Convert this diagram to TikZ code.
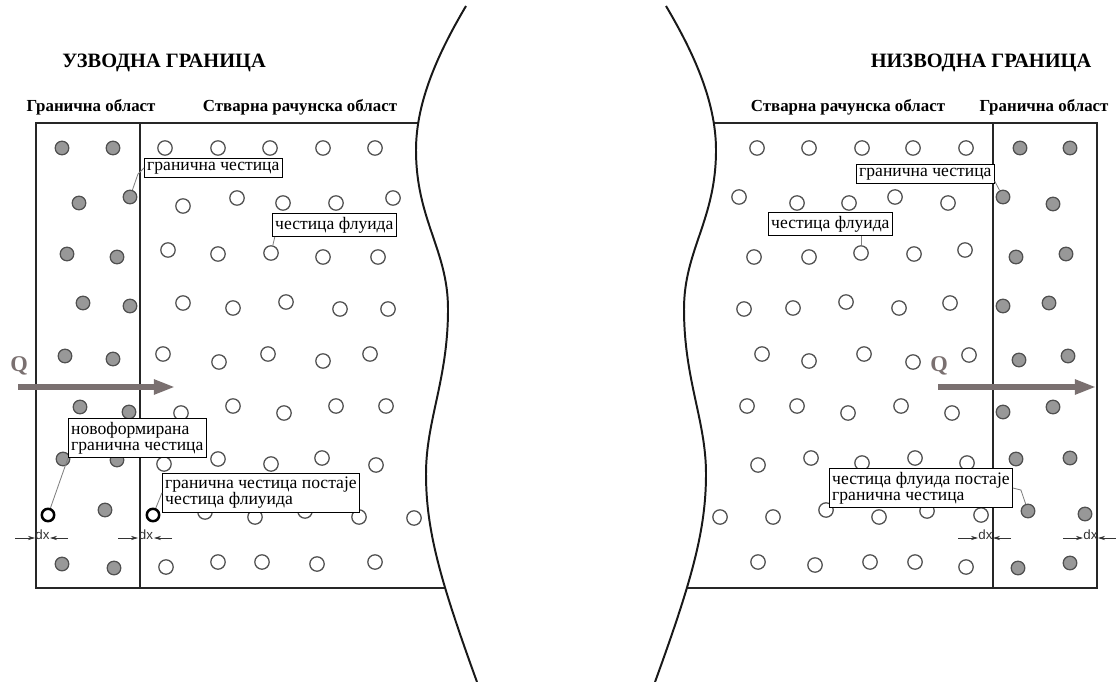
\documentclass[tikz,border=0pt]{standalone}
\usepackage{fontspec}
\setmainfont{Liberation Serif}
\setsansfont{Liberation Sans}
\usetikzlibrary{arrows.meta}

\definecolor{qgrey}{RGB}{122,112,112}
\definecolor{pgrey}{RGB}{152,152,152}
\definecolor{rimgrey}{RGB}{80,80,80}

\begin{document}
\begin{tikzpicture}[x=0.025cm,y=-0.025cm,
  every node/.style={font=\fontsize{12.5}{11.5}\selectfont},
  wall/.style={line width=1.4pt,draw=black!85},
  wave/.style={line width=1.4pt,draw=black!90},
  bpart/.style={circle,draw=rimgrey,fill=pgrey,line width=0.9pt,minimum size=0.34cm,inner sep=0pt},
  fpart/.style={circle,draw=rimgrey,fill=white,line width=0.9pt,minimum size=0.36cm,inner sep=0pt},
  npart/.style={circle,draw=black,fill=white,line width=1.8pt,minimum size=0.31cm,inner sep=0pt},
  tag/.style={draw,fill=white,line width=0.6pt,anchor=north west,align=left,inner xsep=2pt,inner ysep=2.5pt},
  leader/.style={draw=gray,line width=0.6pt},
  title/.style={font=\fontsize{14.5}{16}\selectfont\bfseries},
  head/.style={font=\fontsize{12}{14}\selectfont\bfseries},
  qlabel/.style={font=\fontsize{16}{18}\selectfont\bfseries,text=qgrey},
  flow/.style={draw=qgrey,line width=3.6pt,-{Triangle[length=15pt,width=10pt]}},
  dimline/.style={line width=0.5pt,draw=black!80,-{Stealth[length=5pt,width=3pt]}},
  dxlabel/.style={font=\sffamily\fontsize{9.5}{10}\selectfont,text=black!80,anchor=base,inner sep=0pt}]
\useasboundingbox (0,0) rectangle (1116,682);
% Upstream window: boundary strip and real domain.
\node[title] at (164,63) {УЗВОДНА ГРАНИЦА};
\node[head] at (91,107) {Гранична област};
\node[head] at (300,107) {Стварна рачунска област};
\draw[wall] (419,123) -- (36,123) -- (36,588) -- (445,588);
\draw[wall] (140,123) -- (140,588);
% Downstream window.
\node[title] at (981,63) {НИЗВОДНА ГРАНИЦА};
\node[head] at (848,107) {Стварна рачунска област};
\node[head] at (1044,107) {Гранична област};
\draw[wall] (713,123) -- (1097,123) -- (1097,588) -- (687,588);
\draw[wall] (993,123) -- (993,588);
% Cut lines.
\draw[wave] (466,6) .. controls (440,50) and (416,100) .. (416,150)
  .. controls (416,220) and (448,250) .. (448,309)
  .. controls (448,380) and (426,420) .. (426,474)
  .. controls (426,530) and (440,580) .. (477,682);
\draw[wave] (666,6) .. controls (692,50) and (716,100) .. (716,150)
  .. controls (716,220) and (684,250) .. (684,309)
  .. controls (684,380) and (706,420) .. (706,474)
  .. controls (706,530) and (692,580) .. (655,682);
% Boundary particles.
\foreach \x/\y in {62/148,113/148,79/203,67/254,117/257,83/303,130/306,65/356,113/359,80/407,129/412,63/459,117/460,105/510,62/564,114/568,
  1020/148,1070/148,1053/204,1016/257,1066/254,1003/306,1049/303,1019/360,1068/356,1003/412,1053/407,1016/459,1070/458,1085/514,1018/568,1070/563}
  \node[bpart] at (\x,\y) {};
% Fluid particles.
\foreach \x/\y in {165/148,218/148,270/148,323/148,375/148,
  183/206,237/198,283/203,336/203,393/198,
  168/250,218/254,323/257,378/257,
  183/303,233/308,286/302,340/309,388/309,
  163/354,219/362,268/354,323/361,370/354,
  181/413,233/406,284/413,336/406,386/406,
  164/464,218/459,271/464,322/458,376/465,
  205/512,255/517,305/511,359/517,414/518,
  166/567,218/562,262/562,317/564,375/562}
  \node[fpart] at (\x,\y) {};
\foreach \x/\y in {757/148,809/148,862/148,913/148,966/148,
  739/197,797/203,849/203,895/197,948/203,
  754/257,809/257,914/254,965/250,
  744/309,793/308,846/302,899/308,950/303,
  762/354,809/361,864/354,913/362,969/355,
  747/406,797/406,848/413,901/406,952/413,
  758/465,811/458,862/463,915/458,967/463,
  720/517,773/517,826/510,879/517,927/511,981/515,
  758/562,815/565,870/562,915/562,966/567}
  \node[fpart] at (\x,\y) {};
% Particles that carry a label.
\node[bpart] (gA) at (130,197) {};
\node[fpart] (fA) at (271,253) {};
\node[npart] (nA) at (48,515) {};
\node[npart] (nB) at (153,515) {};
\node[bpart] (gR) at (1003,197) {};
\node[fpart] (fR) at (861,253) {};
\node[bpart] (gS) at (1028,511) {};
% Labels.
\node[tag] (L1) at (144,158) {гранична честица};
\node[tag] (L2) at (272,213) {честица флуида};
\node[tag] (L3) at (68,418) {новоформирана\\гранична честица};
\node[tag] (L4) at (162,473) {гранична честица постаје\\честица флиуида};
\node[tag] (R1) at (856,164) {гранична честица};
\node[tag] (R2) at (768,212) {честица флуида};
\node[tag] (R3) at (829,468) {честица флуида постаје\\гранична честица};
\draw[leader] (L1.west) -- ++(-6,6) -- (gA);
\draw[leader] ([xshift=2pt]L2.south west) -- (fA);
\draw[leader] (L3.south west) -- (nA);
\draw[leader] (L4.west) -- (nB);
\draw[leader] ([yshift=2pt]R1.south east) -- (gR);
\draw[leader] (fR |- R2.south) -- (fR);
\draw[leader] (R3.east) -- ++(8,2) -- (gS);
% Inflow and outflow.
\coordinate (qa) at (18,387);
\coordinate (qb) at (175,387);
\coordinate (qc) at (938,387);
\coordinate (qd) at (1096,387);
\draw[flow] (qa) -- (qb);
\draw[flow] (qc) -- (qd);
\node[qlabel] at (19,366) {Q};
\node[qlabel] at (939,366) {Q};
% Spacing marks.
\foreach \a/\b in {35/50,138/154,978/993,1083/1098}{
  \draw[dimline] (\a-20,538) -- (\a,538);
  \draw[dimline] (\b+18,538) -- (\b,538);
  \node[dxlabel] at ({(\a+\b)/2},539) {dx};
}
\end{tikzpicture}
\end{document}
